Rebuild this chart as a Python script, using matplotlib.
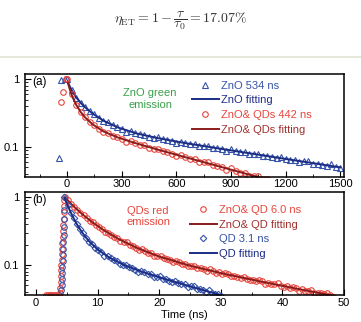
import numpy as np
import matplotlib
matplotlib.use('Agg')
import matplotlib.pyplot as plt
from matplotlib.ticker import MultipleLocator, LogLocator, FixedLocator, FixedFormatter, NullFormatter
from matplotlib.lines import Line2D

# ---- panel (a): ZnO green emission, time in ns ----
t_zno = np.arange(0, 1501, 25)
zno = [1.01, 0.704, 0.532, 0.452, 0.389, 0.336, 0.305, 0.265, 0.24, 0.231, 0.209, 0.198, 0.186,
       0.169, 0.17, 0.162, 0.153, 0.151, 0.139, 0.137, 0.139, 0.13, 0.128, 0.123, 0.116, 0.12,
       0.116, 0.11, 0.11, 0.102, 0.103, 0.104, 0.0969, 0.0965, 0.0927, 0.0882, 0.0924, 0.0878,
       0.0836, 0.0837, 0.0779, 0.0796, 0.0801, 0.0736, 0.0737, 0.0707, 0.0682, 0.0715, 0.0667,
       0.0638, 0.0641, 0.0599, 0.0619, 0.0613, 0.0558, 0.0565, 0.0542, 0.0529, 0.0552, 0.0505,
       0.0487]
t_zno_pre = [-44, -33, -10]
zno_pre = [0.069, 0.97, 1.0]

t_znoqd = np.arange(0, 1176, 25)
znoqd = [1, 0.603, 0.412, 0.331, 0.276, 0.233, 0.211, 0.182, 0.167, 0.162, 0.147, 0.141, 0.133,
         0.12, 0.121, 0.116, 0.108, 0.106, 0.0963, 0.0937, 0.0946, 0.0867, 0.0847, 0.08, 0.0736,
         0.0759, 0.0718, 0.067, 0.066, 0.0597, 0.0593, 0.0597, 0.0539, 0.0529, 0.0498, 0.0463,
         0.0483, 0.0448, 0.0417, 0.0412, 0.0373, 0.0378, 0.0376, 0.0335, 0.0331, 0.0311, 0.0293,
         0.0307]
t_znoqd_pre = [-31, -20, -7]
znoqd_pre = [0.46, 0.65, 1.0]

t_fit_a = [5, 15, 30, 50, 75, 100, 140, 200, 280, 380, 500, 650, 800, 1000, 1200, 1500]
zno_fit = [0.92, 0.793, 0.66, 0.545, 0.451, 0.386, 0.313, 0.245, 0.194, 0.159, 0.135, 0.114,
           0.0982, 0.0808, 0.0666, 0.0499]
znoqd_fit = [0.887, 0.717, 0.552, 0.423, 0.33, 0.273, 0.217, 0.17, 0.138, 0.113, 0.0912, 0.0706,
             0.0548, 0.039, 0.0278, 0.0167]

# ---- panel (b): QDs red emission, time in ns ----
t_base = [1.6, 1.9, 2.2, 2.5, 2.8, 3.1, 3.4, 3.7]
base = [0.036, 0.036, 0.036, 0.036, 0.036, 0.036, 0.036, 0.036]
t_rise_r = [3.9, 3.95, 4.0, 4.04, 4.08, 4.12, 4.16, 4.2, 4.24, 4.28, 4.32, 4.36, 4.4, 4.45, 4.5,
            4.55, 4.6]
rise_r = [0.038, 0.046, 0.056, 0.068, 0.083, 0.1, 0.12, 0.145, 0.175, 0.21, 0.26, 0.32, 0.39,
          0.48, 0.6, 0.74, 0.9]
t_rise_b = [4.1, 4.14, 4.18, 4.22, 4.26, 4.3, 4.34, 4.38, 4.42, 4.46, 4.5, 4.54, 4.58]
rise_b = [0.042, 0.05, 0.062, 0.076, 0.092, 0.115, 0.14, 0.175, 0.22, 0.28, 0.36, 0.48, 0.65]

t_qdzno = np.arange(4.7, 48.3, 0.5)
qdzno = [1.01, 0.898, 0.786, 0.724, 0.659, 0.593, 0.551, 0.491, 0.451, 0.43, 0.391, 0.367, 0.341,
         0.307, 0.3, 0.282, 0.261, 0.251, 0.228, 0.219, 0.216, 0.199, 0.192, 0.181, 0.168, 0.17,
         0.161, 0.151, 0.149, 0.137, 0.136, 0.136, 0.125, 0.124, 0.118, 0.111, 0.115, 0.109,
         0.104, 0.103, 0.0958, 0.0973, 0.0975, 0.0896, 0.0895, 0.0858, 0.0827, 0.0863, 0.0807,
         0.0772, 0.0775, 0.0727, 0.0749, 0.0742, 0.0679, 0.0688, 0.0661, 0.0647, 0.0674, 0.062,
         0.06, 0.0606, 0.0572, 0.0594, 0.0579, 0.0529, 0.0544, 0.0524, 0.0517, 0.0534, 0.0484,
         0.0476, 0.0483, 0.0458, 0.0476, 0.0455, 0.0418, 0.0436, 0.0419, 0.0416, 0.0424, 0.0381,
         0.0382, 0.0389, 0.0368, 0.0382, 0.0359, 0.0333]
t_qd = np.arange(4.6, 30.2, 0.5)
qd = [0.995, 0.771, 0.592, 0.49, 0.407, 0.338, 0.297, 0.249, 0.22, 0.205, 0.181, 0.168, 0.154,
      0.137, 0.135, 0.127, 0.117, 0.114, 0.103, 0.0999, 0.101, 0.0923, 0.0903, 0.0857, 0.0793,
      0.0821, 0.0783, 0.0736, 0.0732, 0.0669, 0.0671, 0.0681, 0.0623, 0.0618, 0.0588, 0.0554,
      0.0583, 0.0548, 0.0517, 0.0516, 0.0475, 0.0485, 0.0488, 0.0441, 0.0442, 0.042, 0.0402,
      0.0424, 0.0391, 0.037, 0.0371, 0.0343]

t_fit_qdzno = [4.7, 5.2, 5.8, 6.5, 7.5, 9, 11, 13.5, 16.5, 20, 25, 30, 36, 42, 48]
qdzno_fit = [1, 0.892, 0.784, 0.68, 0.563, 0.437, 0.326, 0.239, 0.177, 0.133, 0.0975, 0.0758,
             0.0581, 0.0452, 0.0355]
t_fit_qd = [4.6, 5.0, 5.5, 6.0, 6.7, 7.5, 8.5, 10, 12, 14.5, 17.5, 21, 25, 30]
qd_fit = [0.99, 0.805, 0.633, 0.509, 0.389, 0.3, 0.229, 0.169, 0.127, 0.0979, 0.0776, 0.0617,
          0.0483, 0.0359]

BLUE = '#3553a8'
DBLUE = '#1c2c85'
RED = '#e8453c'
DRED = '#8b1c1c'
GREEN = '#3aa04a'

plt.rcParams['font.family'] = ['Liberation Sans', 'DejaVu Sans']
plt.rcParams['mathtext.fontset'] = 'cm'
plt.rcParams['font.size'] = 8

fig = plt.figure(figsize=(3.61, 3.22), dpi=100)
axa = fig.add_axes([0.0693, 0.4503, 0.8837, 0.3199])
axb = fig.add_axes([0.0693, 0.0839, 0.8837, 0.3199])

mk = dict(mfc='none', ms=4, mew=0.8, ls='none')

# panel (a)
axa.plot(t_zno_pre, zno_pre, marker='^', mec=BLUE, **mk)
axa.plot(t_zno, zno, marker='^', mec=BLUE, label='ZnO 534 ns', **mk)
axa.plot(t_fit_a, zno_fit, '-', color=DBLUE, lw=1.4, label='ZnO fitting')
axa.plot(t_znoqd_pre, znoqd_pre, marker='o', mec=RED, **mk)
axa.plot(t_znoqd, znoqd, marker='o', mec=RED, label='ZnO& QDs 442 ns', **mk)
axa.plot(t_fit_a, znoqd_fit, '-', color=DRED, lw=1.4, label='ZnO& QDs fitting')

# panel (b)
axb.plot(t_base, base, marker='o', mec=RED, **mk)
axb.plot(t_rise_r, rise_r, marker='o', mec=RED, **mk)
axb.plot(t_qdzno, qdzno, marker='o', mec=RED, label='ZnO& QD 6.0 ns', **mk)
axb.plot(t_fit_qdzno, qdzno_fit, '-', color=DRED, lw=1.4, label='ZnO& QD fitting')
axb.plot(t_rise_b, rise_b, marker='o', mec=BLUE, **mk)
axb.plot(t_qd, qd, marker='D', mec=BLUE, mfc='none', ms=3.3, mew=0.8, ls='none', label='QD 3.1 ns')
axb.plot(t_fit_qd, qd_fit, '-', color=DBLUE, lw=1.4, label='QD fitting')

for ax in (axa, axb):
    ax.set_yscale('log')
    ax.set_ylim(0.036, 1.2)
    ax.yaxis.set_major_locator(FixedLocator([0.1, 1]))
    ax.yaxis.set_major_formatter(FixedFormatter(['0.1', '1']))
    ax.yaxis.set_minor_locator(LogLocator(subs=np.arange(2, 10)))
    ax.yaxis.set_minor_formatter(NullFormatter())
    ax.tick_params(which='both', direction='in', top=False, right=False, labelsize=8)
    ax.tick_params(which='major', length=4, width=0.8)
    ax.tick_params(which='minor', length=2, width=0.6)
    ax.tick_params(axis='y', pad=4)
    for s in ax.spines.values():
        s.set_linewidth(1.1)

axa.set_xlim(-230, 1520)
axa.xaxis.set_major_locator(MultipleLocator(300))
axa.xaxis.set_minor_locator(MultipleLocator(150))
axa.tick_params(axis='x', pad=1.5)
axb.set_xlim(-1.8, 50)
axb.xaxis.set_major_locator(MultipleLocator(10))
axb.xaxis.set_minor_locator(MultipleLocator(5))
axb.tick_params(axis='x', pad=2.5)
axb.set_xlabel('Time (ns)', fontsize=8, labelpad=1)

axa.text(0.022, 0.92, '(a)', transform=axa.transAxes, va='center', fontsize=8.5)
axb.text(0.022, 0.92, '(b)', transform=axb.transAxes, va='center', fontsize=8.5)
axa.text(0.392, 0.757, 'ZnO green\nemission', transform=axa.transAxes, ha='center', va='center',
         color=GREEN, fontsize=8, linespacing=1.15)
axb.text(0.386, 0.762, 'QDs red\nemission', transform=axb.transAxes, ha='center', va='center',
         color=RED, fontsize=8, linespacing=1.15)

lega = axa.legend(loc='upper left', bbox_to_anchor=(0.523, 0.935), frameon=False, fontsize=8,
                  handlelength=2.4, handletextpad=0.2, labelspacing=0.42, borderpad=0, borderaxespad=0)
for t, c in zip(lega.get_texts(), [BLUE, DBLUE, RED, '#a0302c']):
    t.set_color(c)
legb = axb.legend(loc='upper left', bbox_to_anchor=(0.517, 0.875), frameon=False, fontsize=8,
                  handlelength=2.4, handletextpad=0.2, labelspacing=0.42, borderpad=0, borderaxespad=0)
for t, c in zip(legb.get_texts(), [RED, '#a0302c', BLUE, DBLUE]):
    t.set_color(c)

fig.text(0.5, 0.935, r'$\eta_{\mathrm{ET}}=1-\dfrac{\tau}{\tau_0}=17.07\%$', ha='center', va='center',
         fontsize=10, color='#333333')
fig.add_artist(Line2D([0, 1], [0.823, 0.823], transform=fig.transFigure, color='#e4e8da', lw=1.5))

fig.savefig('out.png')
